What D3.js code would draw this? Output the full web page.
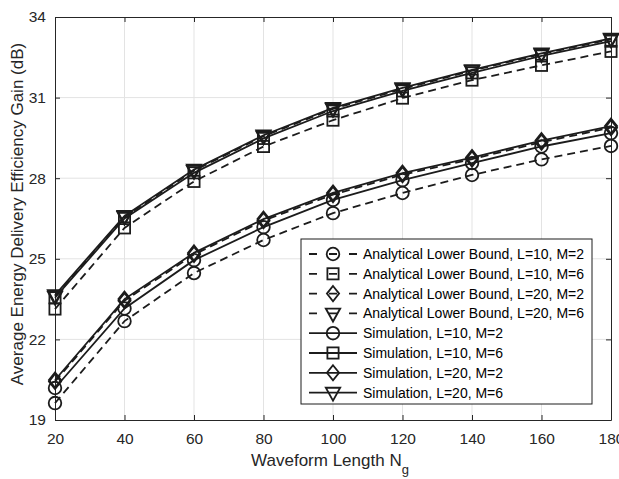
<!DOCTYPE html>
<html>
<head>
<meta charset="utf-8">
<script src="https://cdn.jsdelivr.net/npm/d3@7"></script>
<style>
  html, body { margin: 0; padding: 0; background: #fff; }
  svg { display: block; font-family: "Liberation Sans", Arial, Helvetica, sans-serif; }
</style>
</head>
<body>
<svg id="chart" width="619" height="479"></svg>
<script>
// ---- Data ----
const waveformLength = [20, 40, 60, 80, 100, 120, 140, 160, 180];
const xTicks = [20, 40, 60, 80, 100, 120, 140, 160, 180];
const yTicks = [19, 22, 25, 28, 31, 34];

const analyticL10M2 = [19.63, 22.68, 24.47, 25.70, 26.70, 27.45, 28.12, 28.70, 29.20];
const analyticL10M6 = [23.13, 26.15, 27.88, 29.18, 30.16, 30.98, 31.65, 32.20, 32.72];
const analyticL20M2 = [20.43, 23.44, 25.16, 26.42, 27.39, 28.13, 28.71, 29.34, 29.88];
const analyticL20M6 = [23.60, 26.56, 28.28, 29.56, 30.58, 31.32, 32.00, 32.62, 33.17];
const simL10M2 = [20.19, 23.15, 24.95, 26.18, 27.19, 27.93, 28.56, 29.18, 29.68];
const simL10M6 = [23.55, 26.50, 28.20, 29.48, 30.50, 31.25, 31.92, 32.55, 33.10];
const simL20M2 = [20.49, 23.50, 25.22, 26.48, 27.45, 28.19, 28.77, 29.40, 29.94];
const simL20M6 = [23.65, 26.60, 28.32, 29.60, 30.62, 31.36, 32.03, 32.65, 33.20];

const series = [
  { name: "Analytical Lower Bound, L=10, M=2", values: analyticL10M2, dashed: true,  marker: "circle" },
  { name: "Analytical Lower Bound, L=10, M=6", values: analyticL10M6, dashed: true,  marker: "square" },
  { name: "Analytical Lower Bound, L=20, M=2", values: analyticL20M2, dashed: true,  marker: "diamond" },
  { name: "Analytical Lower Bound, L=20, M=6", values: analyticL20M6, dashed: true,  marker: "triangle" },
  { name: "Simulation, L=10, M=2", values: simL10M2, dashed: false, marker: "circle" },
  { name: "Simulation, L=10, M=6", values: simL10M6, dashed: false, marker: "square" },
  { name: "Simulation, L=20, M=2", values: simL20M2, dashed: false, marker: "diamond" },
  { name: "Simulation, L=20, M=6", values: simL20M6, dashed: false, marker: "triangle" }
];

(function () {
// ---- Layout ----
const svg = d3.select("#chart");
const pL = 55, pR = 611, pT = 17, pB = 420;
const x = d3.scaleLinear().domain([20, 180]).range([pL, pR]);
const y = d3.scaleLinear().domain([19, 34]).range([pB, pT]);
const axisColor = "#262626";
const lineColor = "#1c1c1c";

// grid
const grid = svg.append("g");
grid.selectAll(".gx").data(xTicks.slice(1, -1)).join("line")
  .attr("x1", d => x(d)).attr("x2", d => x(d)).attr("y1", pT).attr("y2", pB)
  .attr("stroke", "#e3e3e3").attr("stroke-width", 1);
grid.selectAll(".gy").data(yTicks.slice(1, -1)).join("line")
  .attr("y1", d => y(d)).attr("y2", d => y(d)).attr("x1", pL).attr("x2", pR)
  .attr("stroke", "#e3e3e3").attr("stroke-width", 1);

// axes with ticks inside
const tickLen = 5;
const axB = svg.append("g").attr("transform", `translate(0,${pB})`)
  .call(d3.axisBottom(x).tickValues(xTicks).tickSizeInner(-tickLen).tickSizeOuter(0).tickPadding(13));
const axT = svg.append("g").attr("transform", `translate(0,${pT})`)
  .call(d3.axisTop(x).tickValues(xTicks).tickSizeInner(-tickLen).tickSizeOuter(0).tickFormat(""));
const axL = svg.append("g").attr("transform", `translate(${pL},0)`)
  .call(d3.axisLeft(y).tickValues(yTicks).tickSizeInner(-tickLen).tickSizeOuter(0).tickPadding(9));
const axR = svg.append("g").attr("transform", `translate(${pR},0)`)
  .call(d3.axisRight(y).tickValues(yTicks).tickSizeInner(-tickLen).tickSizeOuter(0).tickFormat(""));
[axB, axT, axL, axR].forEach(a => {
  a.select(".domain").attr("stroke", axisColor).attr("stroke-width", 1);
  a.selectAll(".tick line").attr("stroke", axisColor);
  a.selectAll(".tick text").attr("fill", axisColor)
    .style("font-size", "15.5px").style("font-family", '"Liberation Sans", Arial, sans-serif');
});

// markers
function drawMarker(g, type, cx, cy) {
  const sw = 1.8;
  if (type === "circle") {
    g.append("circle").attr("cx", cx).attr("cy", cy).attr("r", 6.3)
      .attr("fill", "none").attr("stroke", lineColor).attr("stroke-width", sw);
  } else if (type === "square") {
    const s = 5.6;
    g.append("rect").attr("x", cx - s).attr("y", cy - s).attr("width", 2 * s).attr("height", 2 * s)
      .attr("fill", "none").attr("stroke", lineColor).attr("stroke-width", sw);
  } else if (type === "diamond") {
    const s = 7.6;
    g.append("path").attr("d", `M${cx},${cy - s}L${cx + s * 0.8},${cy}L${cx},${cy + s}L${cx - s * 0.8},${cy}Z`)
      .attr("fill", "none").attr("stroke", lineColor).attr("stroke-width", sw);
  } else if (type === "triangle") {
    const w = 7.2, h = 6.5;
    g.append("path").attr("d", `M${cx - w},${cy - h * 0.75}L${cx + w},${cy - h * 0.75}L${cx},${cy + h * 1.25}Z`)
      .attr("fill", "none").attr("stroke", lineColor).attr("stroke-width", sw);
  }
}

const line = d3.line().x((d, i) => x(waveformLength[i])).y(d => y(d));
const plot = svg.append("g");
series.forEach(s => {
  plot.append("path").datum(s.values).attr("d", line)
    .attr("fill", "none").attr("stroke", lineColor).attr("stroke-width", 1.8)
    .attr("stroke-dasharray", s.dashed ? "8,5" : null);
  const mg = plot.append("g");
  s.values.forEach((v, i) => drawMarker(mg, s.marker, x(waveformLength[i]), y(v)));
});

// axis labels
svg.append("text").attr("x", 330).attr("y", 466).attr("text-anchor", "middle")
  .attr("fill", axisColor).style("font-size", "17px")
  .text("Waveform Length N")
  .append("tspan").attr("dy", 8).style("font-size", "13px").text("g");
svg.append("text").attr("transform", "translate(23,214) rotate(-90)").attr("text-anchor", "middle")
  .attr("fill", axisColor).style("font-size", "17px")
  .text("Average Energy Delivery Efficiency Gain (dB)");

// legend
const lx = 301, ly = 239, lw = 291, lh = 165;
const leg = svg.append("g");
leg.append("rect").attr("x", lx).attr("y", ly).attr("width", lw).attr("height", lh)
  .attr("fill", "#fff").attr("stroke", lineColor).attr("stroke-width", 1);
series.forEach((s, i) => {
  const cy = 254 + i * 19.8;
  leg.append("line").attr("x1", 309).attr("x2", 357).attr("y1", cy).attr("y2", cy)
    .attr("stroke", lineColor).attr("stroke-width", 1.8)
    .attr("stroke-dasharray", s.dashed ? "8,12,8,12,8" : null);
  drawMarker(leg, s.marker, 333, cy);
  leg.append("text").attr("x", 363).attr("y", cy + 5).attr("fill", "#000")
    .style("font-size", "14px").text(s.name);
});
})();
</script>
</body>
</html>
